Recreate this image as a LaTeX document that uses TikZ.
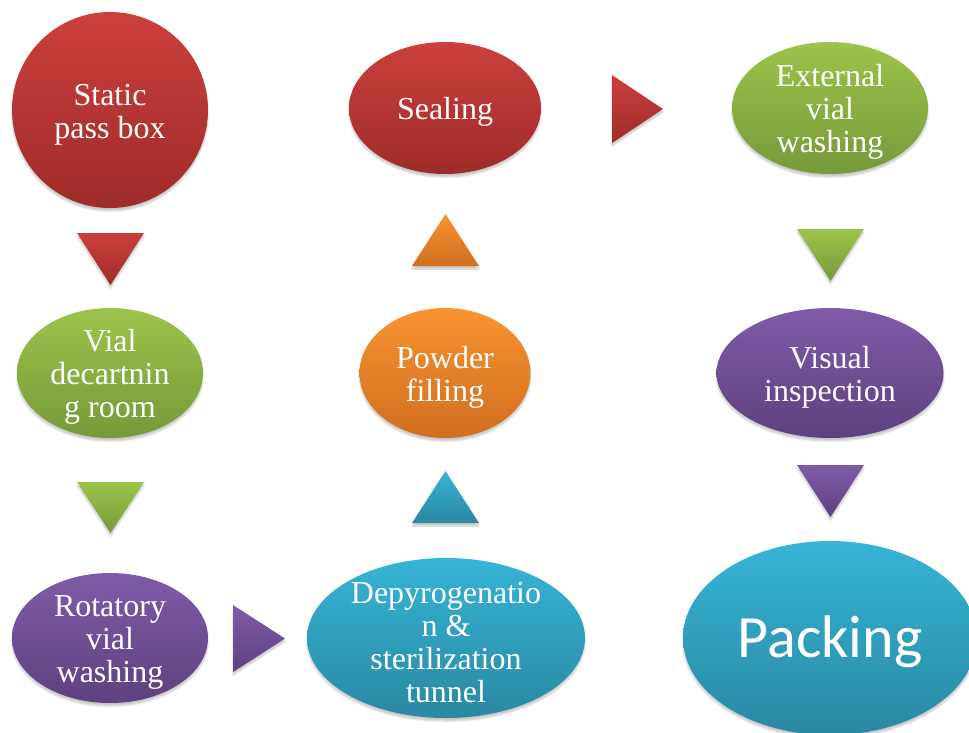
\documentclass[tikz,border=0pt]{standalone}
\usepackage{fontspec}
\setmainfont{Liberation Serif}
\newfontfamily\packfont{Carlito}
\usetikzlibrary{shapes.geometric,shadows.blur}
\definecolor{redT}{HTML}{CC3F3C}\definecolor{redB}{HTML}{9E2C29}
\definecolor{greenT}{HTML}{9DC34B}\definecolor{greenB}{HTML}{77993A}
\definecolor{purpT}{HTML}{7E5BA8}\definecolor{purpB}{HTML}{5E417F}
\definecolor{orT}{HTML}{F99431}\definecolor{orB}{HTML}{D06E1F}
\definecolor{blueT}{HTML}{36B4D6}\definecolor{blueB}{HTML}{2A88A2}
\newcommand\tstrut{\rule{0pt}{30pt}}
\tikzset{
  shad/.style={blur shadow={shadow xshift=0pt, shadow yshift=-3pt, shadow blur steps=6, shadow opacity=22}},
  blob/.style={ellipse, inner xsep=0pt, inner ysep=-40pt, align=center, text=white, shad,
    font=\fontsize{32}{33}\selectfont},
  redfill/.style={top color=redT, bottom color=redB},
  greenfill/.style={top color=greenT, bottom color=greenB},
  purpfill/.style={top color=purpT, bottom color=purpB},
  orfill/.style={top color=orT, bottom color=orB},
  bluefill/.style={top color=blueT, bottom color=blueB},
}
\begin{document}
\begin{tikzpicture}[x=1pt,y=-1pt]
\useasboundingbox (0,0) rectangle (969,732);
\clip (0,0) rectangle (969,732);
% nodes
\node[blob, redfill, minimum width=196pt, minimum height=196pt] (static) at (110,110) {\tstrut Static\\pass box};
\node[blob, greenfill, minimum width=186pt, minimum height=130pt] (decart) at (110,373) {\tstrut Vial\\decartnin\\g room};
\node[blob, purpfill, minimum width=196pt, minimum height=130pt] (rot) at (110,638) {\tstrut Rotatory\\vial\\washing};
\node[blob, bluefill, minimum width=278pt, minimum height=160pt] (depy) at (446,638) {\tstrut Depyrogenatio\\n \&\\sterilization\\tunnel};
\node[blob, orfill, minimum width=171pt, minimum height=130pt] (powder) at (445,373) {\tstrut Powder\\filling};
\node[blob, redfill, minimum width=192pt, minimum height=132pt] (seal) at (445,108) {\tstrut Sealing};
\node[blob, greenfill, minimum width=196pt, minimum height=132pt] (ext) at (830,108) {\tstrut External\\vial\\washing};
\node[blob, purpfill, minimum width=227pt, minimum height=130pt] (vis) at (830,373) {\tstrut Visual\\inspection};
\node[blob, bluefill, minimum width=294pt, minimum height=194pt, font=\packfont\fontsize{60}{60}\selectfont] (pack) at (830,638) {\rule{0pt}{49pt}Packing};
% triangle arrows
\path[redfill, shad] (77,233) -- (144,233) -- (110.5,285) -- cycle;
\path[greenfill, shad] (77,482) -- (144,482) -- (110.5,533) -- cycle;
\path[purpfill, shad] (233,605) -- (233,672) -- (285,638.5) -- cycle;
\path[bluefill, shad] (412,523) -- (479,523) -- (445.5,471) -- cycle;
\path[orfill, shad] (412,266) -- (479,266) -- (445.5,214) -- cycle;
\path[redfill, shad] (612,75) -- (612,143) -- (663,109) -- cycle;
\path[greenfill, shad] (797,229) -- (864,229) -- (830.5,281) -- cycle;
\path[purpfill, shad] (797,465) -- (864,465) -- (830.5,517) -- cycle;
\end{tikzpicture}
\end{document}
